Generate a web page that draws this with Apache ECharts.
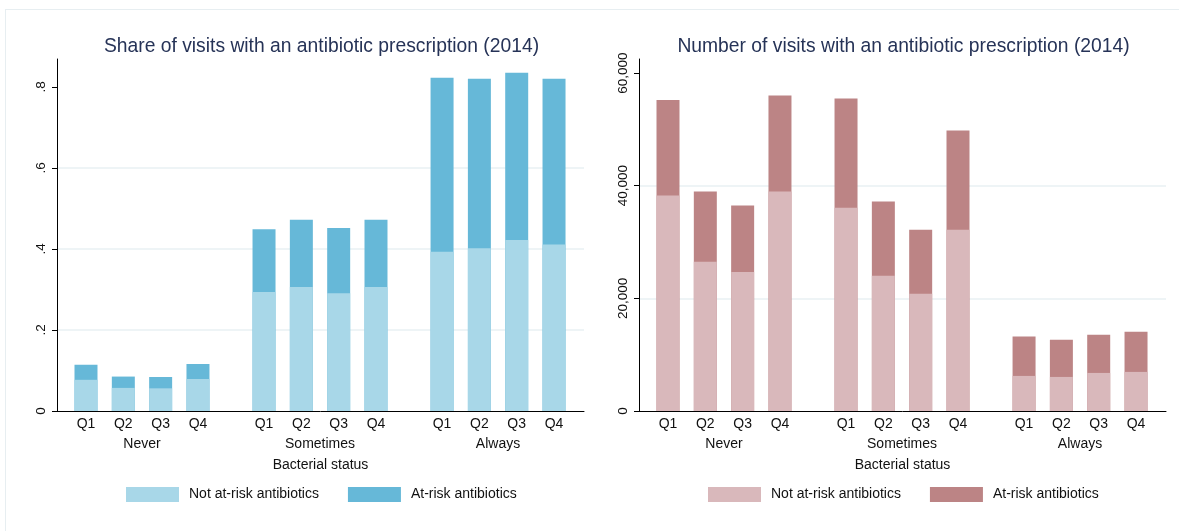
<!DOCTYPE html>
<html>
<head>
<meta charset="utf-8">
<script src="https://cdn.jsdelivr.net/npm/echarts@6/dist/echarts.min.js"></script>
<style>
  html, body { margin: 0; padding: 0; background: #ffffff; }
  #wrap { position: relative; width: 1179px; height: 531px; overflow: hidden; background: #ffffff; }
  .frame { position: absolute; left: 5px; top: 9px; right: -2px; bottom: -2px;
           border-left: 1px solid #e7eef1; border-top: 1px solid #e7eef1; }
  .chart { position: absolute; left: 0; top: 0; width: 1179px; height: 531px; }
</style>
</head>
<body>
<div id="wrap">
  <div class="frame"></div>
  <div id="share" class="chart"></div>
  <div id="count" class="chart"></div>
</div>
<script>
// Categories
const quarters = ['Q1', 'Q2', 'Q3', 'Q4'];
const statuses = ['Never', 'Sometimes', 'Always'];
const seriesNames = ['Not at-risk antibiotics', 'At-risk antibiotics'];

// Share of visits (order: Never Q1..Q4, Sometimes Q1..Q4, Always Q1..Q4)
const shareNotAtRisk = [0.077, 0.057, 0.056, 0.079, 0.294, 0.306, 0.291, 0.306, 0.393, 0.402, 0.422, 0.411];
const shareAtRisk    = [0.037, 0.028, 0.028, 0.037, 0.155, 0.166, 0.161, 0.166, 0.430, 0.418, 0.413, 0.409];

// Number of visits (same order)
const countNotAtRisk = [38250, 26500, 24700, 38960, 36100, 24000, 20800, 32200, 6230, 6050, 6760, 6940];
const countAtRisk    = [16950, 12460, 11770, 17080, 19400, 13180, 11400, 17600, 6990, 6580, 6760, 7110];

// Tick values
const shareTicks = [0, 0.2, 0.4, 0.6, 0.8];
const countTicks = [0, 20000, 40000, 60000];

// Bar slots along the x axis: one unit per quarter, extra space between status groups
const SLOT_START = 0.777, GROUP_STEP = 4.77, X_MAX = 14.12;
const positions = [];
statuses.forEach((s, g) => quarters.forEach((q, i) => positions.push(SLOT_START + g * GROUP_STEP + i)));
const groupCenters = statuses.map((s, g) => SLOT_START + g * GROUP_STEP + 1.5);

const FONT = '"Liberation Sans", Arial, Helvetica, sans-serif';

function nearestIndex(list, v) {
  let best = 0;
  list.forEach((p, i) => { if (Math.abs(p - v) < Math.abs(list[best] - v)) best = i; });
  return best;
}

function shareFmt(v) {
  if (v === 0) return '0';
  return '.' + Math.round(v * 10);
}
function countFmt(v) {
  return v === 0 ? '0' : v.toLocaleString('en-US');
}

function buildOption(cfg) {
  const L = cfg.left, W = 527, CX = L + W / 2;
  return {
    animation: false,
    backgroundColor: 'transparent',
    textStyle: { fontFamily: FONT },
    title: {
      text: cfg.title,
      left: CX + 1, top: 37, textAlign: 'center', padding: 0,
      textStyle: { fontFamily: FONT, fontSize: 19.3, fontWeight: 'normal', color: '#263357' }
    },
    grid: { left: L, top: 59, width: W, height: 352, containLabel: false },
    legend: {
      data: seriesNames,
      left: L + 69, top: 487, padding: 0,
      icon: 'rect', itemWidth: 53, itemHeight: 15, itemGap: 29,
      selectedMode: false,
      textStyle: { fontFamily: FONT, fontSize: 14, color: '#111', padding: [0, 0, 0, 5] }
    },
    xAxis: [
      {
        type: 'value', min: 0, max: X_MAX,
        axisLine: { show: true, onZero: false, lineStyle: { color: '#000', width: 1 } },
        axisTick: { show: false },
        splitLine: { show: false },
        axisLabel: {
          customValues: positions, margin: 6,
          fontFamily: FONT, fontSize: 14, color: '#111',
          formatter: v => quarters[nearestIndex(positions, v) % 4]
        }
      },
      {
        type: 'value', min: 0, max: X_MAX, position: 'bottom',
        axisLine: { show: false }, axisTick: { show: false }, splitLine: { show: false },
        axisLabel: {
          customValues: groupCenters, margin: 26,
          fontFamily: FONT, fontSize: 14, color: '#111',
          formatter: v => statuses[nearestIndex(groupCenters, v)]
        },
        name: 'Bacterial status', nameLocation: 'middle', nameGap: 47,
        nameTextStyle: { fontFamily: FONT, fontSize: 14, color: '#111' }
      }
    ],
    yAxis: {
      type: 'value', min: 0, max: cfg.yMax, interval: cfg.yInterval,
      axisLine: { show: true, lineStyle: { color: '#000', width: 1 } },
      axisTick: { show: true, length: 5, customValues: cfg.ticks, lineStyle: { color: '#000' } },
      axisLabel: {
        customValues: cfg.ticks, rotate: 90, margin: 9,
        fontFamily: FONT, fontSize: 13.5, color: '#111',
        formatter: cfg.fmt
      },
      splitLine: { show: true, showMinLine: false, showMaxLine: false,
                   lineStyle: { color: '#e9f1f3', width: 1.5 } }
    },
    series: [
      {
        type: 'bar', name: seriesNames[1],
        data: positions.map((x, i) => [x, cfg.notAtRisk[i] + cfg.atRisk[i]]),
        barWidth: 23, barGap: '-100%',
        itemStyle: { color: cfg.dark },
        emphasis: { disabled: true }, silent: true
      },
      {
        type: 'bar', name: seriesNames[0],
        data: positions.map((x, i) => [x, cfg.notAtRisk[i]]),
        barWidth: 23, barGap: '-100%',
        itemStyle: { color: cfg.light },
        emphasis: { disabled: true }, silent: true
      }
    ]
  };
}

const shareChart = echarts.init(document.getElementById('share'), null, { renderer: 'canvas' });
shareChart.setOption(buildOption({
  left: 57,
  title: 'Share of visits with an antibiotic prescription (2014)',
  notAtRisk: shareNotAtRisk, atRisk: shareAtRisk,
  light: '#a8d7e8', dark: '#66b8d8',
  yMax: 0.869, yInterval: 0.2, ticks: shareTicks, fmt: shareFmt
}));

const countChart = echarts.init(document.getElementById('count'), null, { renderer: 'canvas' });
countChart.setOption(buildOption({
  left: 639,
  title: 'Number of visits with an antibiotic prescription (2014)',
  notAtRisk: countNotAtRisk, atRisk: countAtRisk,
  light: '#d9b8bb', dark: '#bc8485',
  yMax: 62500, yInterval: 20000, ticks: countTicks, fmt: countFmt
}));
</script>
</body>
</html>
